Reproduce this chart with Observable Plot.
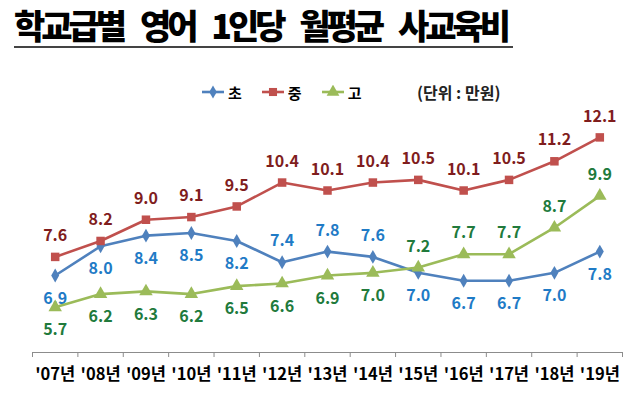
<!DOCTYPE html>
<html><head><meta charset="utf-8">
<script src="https://cdn.jsdelivr.net/npm/d3@7"></script>
<script src="https://cdn.jsdelivr.net/npm/@observablehq/plot@0.6"></script>
<style>
body{margin:0;background:#fff;font-family:"Noto Sans CJK KR","Noto Sans",sans-serif;}
#wrap{position:relative;width:640px;height:403px;overflow:hidden;background:#fff;}
#title{position:absolute;left:14px;top:3px;font-size:34px;font-weight:900;color:#000;letter-spacing:-4px;word-spacing:13px;white-space:nowrap;border-bottom:2.5px solid #444;line-height:43px;padding:0 6px 0 0;}
#legend{position:absolute;left:201px;top:82px;height:20px;display:flex;align-items:center;font-size:15px;font-weight:700;color:#000;}
#legend .it{display:flex;align-items:center;margin-right:19px;}
#legend svg{margin-right:3px;}
#unit{position:absolute;left:417px;top:80px;font-size:16px;font-weight:700;color:#222;white-space:nowrap;}
#chart{position:absolute;left:0;top:95px;}
</style></head>
<body><div id="wrap">
<div id="title">학교급별 영어 1인당 월평균 사교육비</div>
<div id="legend"></div>
<div id="unit">(단위 : 만원)</div>
<div id="chart"></div>
</div>
<script>
const years = ["'07년","'08년","'09년","'10년","'11년","'12년","'13년","'14년","'15년","'16년","'17년","'18년","'19년"];
const seriesNames = ["초","중","고"];
const cho  = [6.9, 8.0, 8.4, 8.5, 8.2, 7.4, 7.8, 7.6, 7.0, 6.7, 6.7, 7.0, 7.8];
const jung = [7.6, 8.2, 9.0, 9.1, 9.5, 10.4, 10.1, 10.4, 10.5, 10.1, 10.5, 11.2, 12.1];
const go   = [5.7, 6.2, 6.3, 6.2, 6.5, 6.6, 6.9, 7.0, 7.2, 7.7, 7.7, 8.7, 9.9];

// layout: which labels sit above their point
const labelsAbove = {
  "초": ["'12년","'13년","'14년"],
  "중": years,
  "고": ["'15년","'16년","'17년","'18년","'19년"]
};
const styles = {
  "초": {line:"#4f81bd", label:"#1f7bc6", symbol:"diamond", r:4.2},
  "중": {line:"#c0504d", label:"#7f1d1d", symbol:"square", r:4.8},
  "고": {line:"#9bbb59", label:"#217a3c", symbol:"triangle", r:5}
};
const valuesBy = {"초": cho, "중": jung, "고": go};

const marks = [
  Plot.ruleY([4], {stroke:"#8c8c8c", strokeWidth:1.2}),
  Plot.axisX(d3.range(-0.5, 13, 1), {tickSize:5, tickFormat:()=>"", stroke:"#8c8c8c", label:null}),
  Plot.axisX(d3.range(0, 13), {tickSize:0, tickPadding:16, tickFormat:i=>years[i], fontSize:16.5, fontWeight:700, fill:"#000", label:null})
];
for (const s of seriesNames) {
  const st = styles[s];
  const rows = years.map((yr, i) => ({i, year: yr, value: valuesBy[s][i]}));
  const above = rows.filter(d => labelsAbove[s].includes(d.year));
  const below = rows.filter(d => !labelsAbove[s].includes(d.year));
  marks.push(
    Plot.line(rows, {x:"i", y:"value", stroke:st.line, strokeWidth:2.6}),
    Plot.dot(rows, {x:"i", y:"value", symbol:st.symbol, fill:st.line, r:st.r}),
    Plot.text(above, {x:"i", y:"value", text:d=>d.value.toFixed(1), dy:-21, fill:st.label, fontSize:16, fontWeight:700}),
    Plot.text(below, {x:"i", y:"value", text:d=>d.value.toFixed(1), dy:23, fill:st.label, fontSize:16, fontWeight:700})
  );
}

const chart = Plot.plot({
  width: 640,
  height: 308,
  marginLeft: 32,
  marginRight: 18,
  marginTop: 18,
  marginBottom: 51,
  x: {type:"linear", domain:[-0.5, 12.5], label:null},
  y: {domain:[4, 13], axis:null},
  style: {fontFamily:'"Noto Sans CJK KR","Noto Sans",sans-serif', background:"transparent"},
  marks
});
document.getElementById("chart").appendChild(chart);

// legend
const leg = document.getElementById("legend");
for (const s of seriesNames) {
  const st = styles[s];
  const it = document.createElement("div"); it.className = "it";
  const sym = d3.create("svg").attr("width", 24).attr("height", 14);
  sym.append("line").attr("x1",1).attr("x2",23).attr("y1",7).attr("y2",7).attr("stroke",st.line).attr("stroke-width",2.6);
  const symType = {diamond:d3.symbolDiamond, square:d3.symbolSquare, triangle:d3.symbolTriangle}[st.symbol];
  sym.append("path").attr("d", d3.symbol(symType, Math.PI*st.r*st.r*0.9)()).attr("transform","translate(12,7)").attr("fill",st.line);
  it.appendChild(sym.node());
  const t = document.createElement("span"); t.textContent = s; it.appendChild(t);
  leg.appendChild(it);
}
</script>
</body></html>
